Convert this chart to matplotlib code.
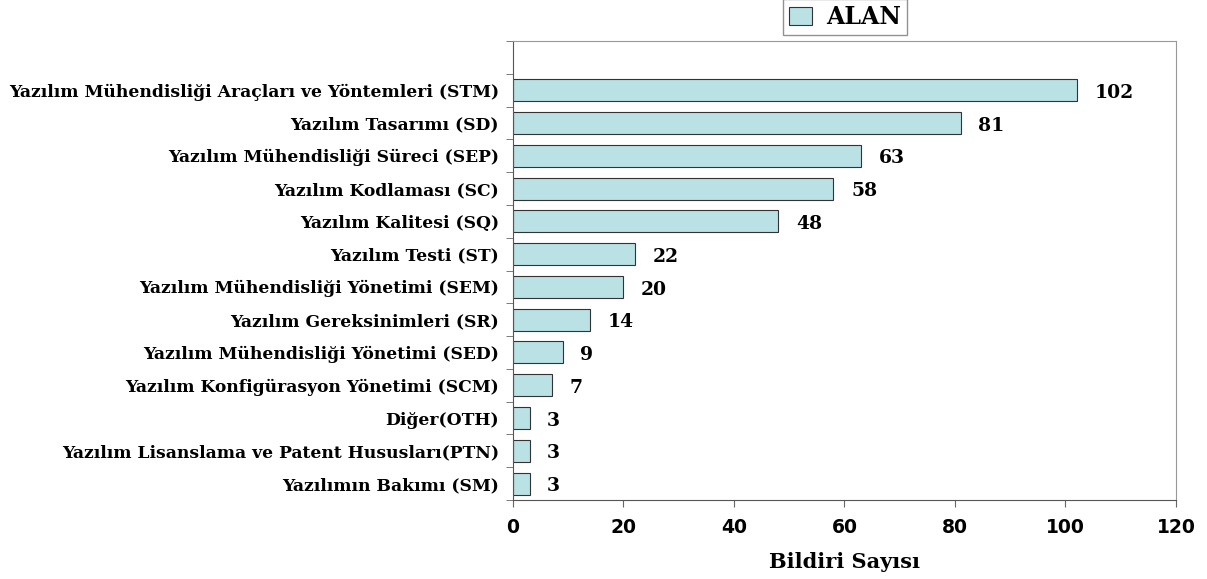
import matplotlib.pyplot as plt
import numpy as np

# categories from top to bottom as in the chart
categories = [
    "Yazılım Mühendisliği Araçları ve Yöntemleri (STM)",
    "Yazılım Tasarımı (SD)",
    "Yazılım Mühendisliği Süreci (SEP)",
    "Yazılım Kodlaması (SC)",
    "Yazılım Kalitesi (SQ)",
    "Yazılım Testi (ST)",
    "Yazılım Mühendisliği Yönetimi (SEM)",
    "Yazılım Gereksinimleri (SR)",
    "Yazılım Mühendisliği Yönetimi (SED)",
    "Yazılım Konfigürasyon Yönetimi (SCM)",
    "Diğer(OTH)",
    "Yazılım Lisanslama ve Patent Hususları(PTN)",
    "Yazılımın Bakımı (SM)",
]
counts = [102, 81, 63, 58, 48, 22, 20, 14, 9, 7, 3, 3, 3]
x_ticks = [0, 20, 40, 60, 80, 100, 120]

serif = ["DejaVu Serif"]

fig = plt.figure(figsize=(12.07, 5.79), dpi=100)
ax = fig.add_axes([0.425, 0.1364, 0.5493, 0.7928])

n = len(categories)
y = np.arange(n)[::-1]
bars = ax.barh(y, counts, height=0.67, color="#BAE1E4", edgecolor="#333333",
               linewidth=0.8, label="ALAN")

# value labels next to the bars
for yi, v in zip(y, counts):
    ax.text(v + 3.2, yi - 0.08, str(v), va="center", ha="left",
            fontsize=13.5, fontweight="bold", family=serif)

ax.set_ylim(-0.5, n + 0.5)
ax.set_xlim(0, 120)
ax.set_xticks(x_ticks)
ax.set_xticklabels([str(t) for t in x_ticks], fontsize=13.5,
                   fontweight="bold", family="DejaVu Sans")
ax.tick_params(axis="x", direction="out", length=5, color="#666666", pad=8)

ax.set_yticks(y)
ax.set_yticklabels(categories, fontsize=12.3, fontweight="bold", family=serif)
ax.tick_params(axis="y", which="major", length=0, pad=10)
ax.set_yticks(np.arange(-0.5, n + 1, 1), minor=True)
ax.tick_params(axis="y", which="minor", direction="out", length=5, color="#666666")

for side in ["left", "bottom"]:
    ax.spines[side].set_color("#555555")
for side in ["top", "right"]:
    ax.spines[side].set_color("#999999")

ax.set_xlabel("Bildiri Sayısı", fontsize=15, fontweight="bold", family=serif,
              labelpad=11)

leg = fig.legend(handles=[bars], labels=["ALAN"], loc="center",
                 bbox_to_anchor=(0.70, 0.971), fancybox=False, shadow=False,
                 handlelength=1.0, handleheight=0.8, borderpad=0.25,
                 handletextpad=0.6,
                 prop={"family": serif, "weight": "bold", "size": 17})
leg.get_frame().set_edgecolor("#777777")
leg.get_frame().set_linewidth(1.0)

fig.savefig("out.png", dpi=100)
